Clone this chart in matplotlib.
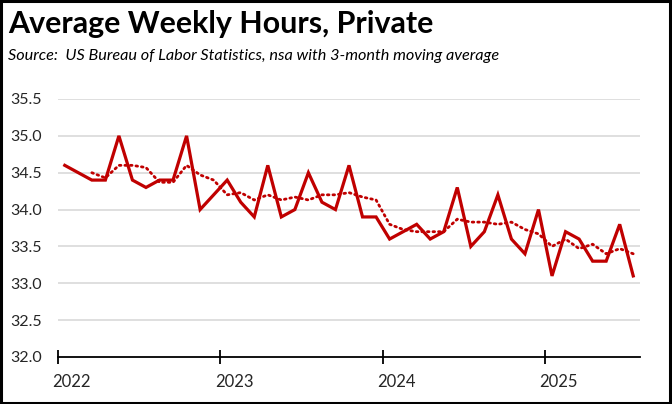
import matplotlib
matplotlib.use("Agg")
import matplotlib.pyplot as plt
from matplotlib.patches import Rectangle
import numpy as np

# Monthly data, Jan 2022 - Jul 2025
hours = [34.6, 34.5, 34.4, 34.4, 35.0, 34.4, 34.3, 34.4, 34.4, 35.0, 34.0, 34.2,
         34.4, 34.1, 33.9, 34.6, 33.9, 34.0, 34.5, 34.1, 34.0, 34.6, 33.9, 33.9,
         33.6, 33.7, 33.8, 33.6, 33.7, 34.3, 33.5, 33.7, 34.2, 33.6, 33.4, 34.0,
         33.1, 33.7, 33.6, 33.3, 33.3, 33.8, 33.1]
# 3-month moving average (starts at Mar 2022)
moving_avg = [None, None, 34.50, 34.43, 34.60, 34.60, 34.57, 34.37, 34.37, 34.60, 34.47, 34.40,
              34.20, 34.23, 34.13, 34.20, 34.13, 34.17, 34.13, 34.20, 34.20, 34.23, 34.17, 34.13,
              33.80, 33.73, 33.70, 33.70, 33.70, 33.87, 33.83, 33.83, 33.80, 33.83, 33.73, 33.67,
              33.50, 33.60, 33.47, 33.53, 33.40, 33.47, 33.40]
year_labels = ["2022", "2023", "2024", "2025"]
y_ticks = [32.0, 32.5, 33.0, 33.5, 34.0, 34.5, 35.0, 35.5]

title = "Average Weekly Hours, Private"
subtitle = "Source:  US Bureau of Labor Statistics, nsa with 3-month moving average"

W, H = 672, 404
dpi = 100
fig = plt.figure(figsize=(W / dpi, H / dpi), dpi=dpi)
fig.patch.set_facecolor("white")

FONT = "Lato"
RED = "#C00000"

left, right, top, bottom = 58, 640, 99, 357
ax = fig.add_axes([left / W, 1 - bottom / H, (right - left) / W, (bottom - top) / H])

x = np.arange(len(hours))
ma = np.array([np.nan if v is None else v for v in moving_avg], dtype=float)

ax.plot(x, ma, color=RED, lw=2.0, linestyle=(0, (0.6, 1.4)), dash_capstyle="round", zorder=3)
ax.plot(x, hours, color=RED, lw=2.3, solid_joinstyle="miter", zorder=4)

ax.set_xlim(-0.5, len(hours) - 0.5)
ax.set_ylim(32.0, 35.5)

for s in ["top", "right", "left"]:
    ax.spines[s].set_visible(False)
ax.spines["bottom"].set_color("black")
ax.spines["bottom"].set_linewidth(1.3)

ax.set_yticks(y_ticks)
ax.set_yticklabels([f"{v:.1f}" for v in y_ticks], fontfamily=FONT, fontsize=11.5, color="#262626")
ax.tick_params(axis="y", length=0, pad=11.5)
for v in y_ticks[1:]:
    ax.axhline(v, color="#d9d9d9", lw=1.2, zorder=1)

major = [-0.5 + 12 * i for i in range(len(year_labels))]
ax.set_xticks(major)
ax.set_xticklabels([""] * len(major))
ax.tick_params(axis="x", which="major", direction="inout", length=10, width=1.3, color="black")
ax.set_xticks([12 * i + 0.5 for i in range(len(year_labels))], minor=True)
ax.set_xticklabels(year_labels, minor=True, fontfamily=FONT, fontsize=12, color="#262626")
ax.tick_params(axis="x", which="minor", length=0, pad=12)

t1 = fig.text(8 / W, 1 - 33 / H, title, fontfamily=FONT, fontweight="bold", fontsize=22,
              ha="left", va="baseline", color="black")
t2 = fig.text(8 / W, 1 - 60 / H, subtitle, fontfamily=FONT, style="italic", fontsize=11,
              ha="left", va="baseline", color="black")

# fit text widths to reference
fig.canvas.draw()
r = fig.canvas.get_renderer()
for t, target in [(t1, 425), (t2, 491)]:
    w = t.get_window_extent(r).width
    t.set_fontsize(t.get_fontsize() * target / w)

fig.patches.append(Rectangle((0.002, 0.003), 0.995, 0.994, transform=fig.transFigure,
                             fill=False, edgecolor="black", lw=2.2))

fig.savefig("out.png", dpi=dpi)
